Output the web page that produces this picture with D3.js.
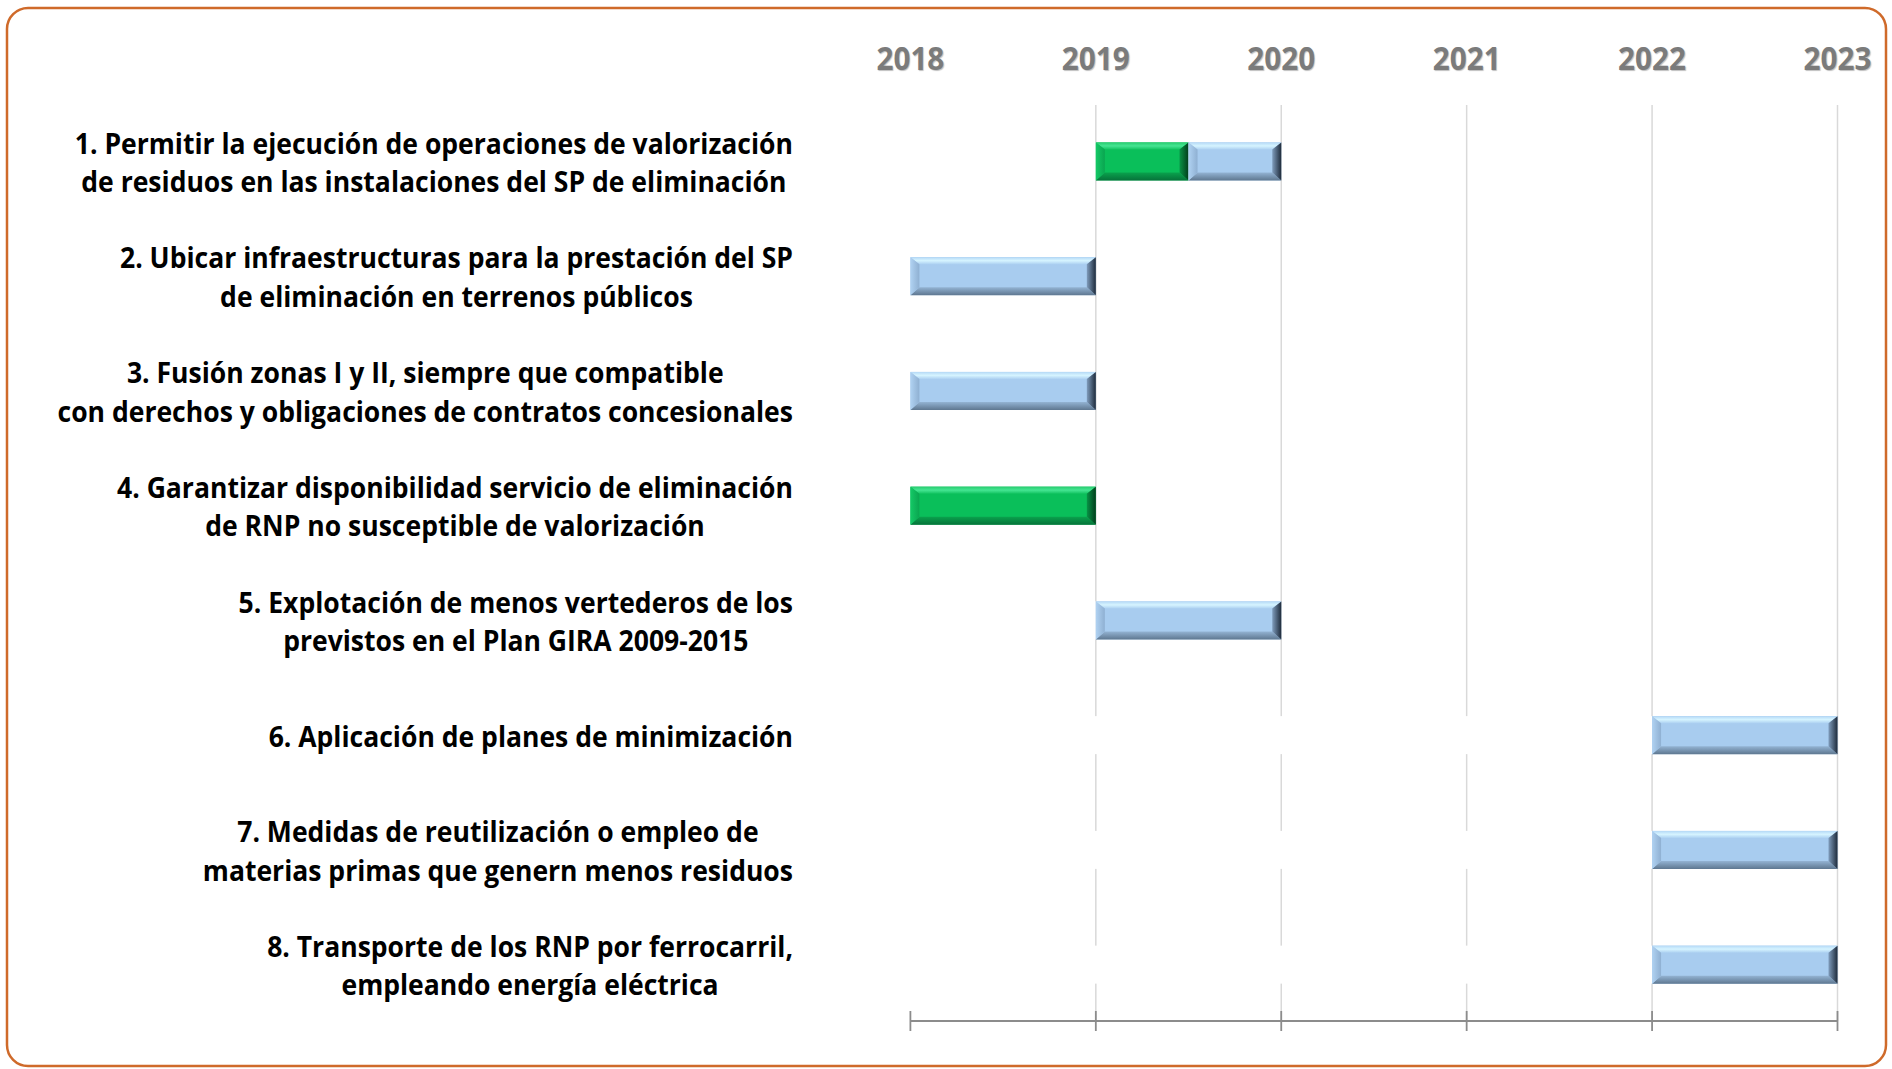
<!DOCTYPE html>
<html>

<head>
	<meta charset="utf-8">
	<title>Calendario de medidas</title>
	<style>
		html,
		body {
			margin: 0;
			background: white;
		}

		svg {
			display: block;
			font-family: "Open Sans", "Noto Sans", sans-serif;
		}
	</style>
	<script src="https://cdn.jsdelivr.net/npm/d3@7"></script>
</head>

<body>
	<svg id="svg" width="1892" height="1069"></svg>

	<script>
		// years on the top scale
		const years = [2018, 2019, 2020, 2021, 2022, 2023];

		// one entry per measure, lines of the label
		const measures = [
			['1. Permitir la ejecución de operaciones de valorización', 'de residuos en las instalaciones del SP de eliminación'],
			['2. Ubicar infraestructuras para la prestación del SP', 'de eliminación en terrenos públicos'],
			['3. Fusión zonas I y II, siempre que compatible', 'con derechos y obligaciones de contratos concesionales'],
			['4. Garantizar disponibilidad servicio de eliminación', 'de RNP no susceptible de valorización'],
			['5. Explotación de menos vertederos de los', 'previstos en el Plan GIRA 2009-2015'],
			['6. Aplicación de planes de minimización'],
			['7. Medidas de reutilización o empleo de', 'materias primas que genern menos residuos'],
			['8. Transporte de los RNP por ferrocarril,', 'empleando energía eléctrica']
		];

		// start year, then durations (years) of the green and blue parts
		const starts = [2019, 2018, 2018, 2018, 2019, 2022, 2022, 2022];
		const greenYears = [0.5, 0, 0, 1, 0, 0, 0, 0];
		const blueYears = [0.5, 1, 1, 0, 1, 1, 1, 1];

		const svg = d3.select('#svg');

		const x = d3.scaleLinear().domain([2018, 2023]).range([910.4, 1837.5]);
		const y = d3.scaleBand().domain(d3.range(measures.length)).range([104, 1022]);
		const barH = 38;

		// narrow the text a bit, the original font is condensed
		function squeeze(sel, k) {
			sel.each(function () {
				const w = this.getComputedTextLength();
				d3.select(this).attr('textLength', w * k).attr('lengthAdjust', 'spacingAndGlyphs');
			});
		}

		// frame
		svg.append('rect')
			.attr('x', 7).attr('y', 8)
			.attr('width', 1879).attr('height', 1058)
			.attr('rx', 21)
			.attr('fill', 'none')
			.attr('stroke', '#cf6a2a')
			.attr('stroke-width', 2.5);

		// bevel gradients
		const defs = svg.append('defs');
		const palette = {
			blue: { mid: '#a8ccef', top: ['#b4d8f6', '#d6f4ff', '#aed2f2'], bottom: ['#94b4d4', '#5f7891'], left: ['#b0d2f2', '#8fb0d2'], right: ['#7f9cbc', '#1e2b3b'] },
			green: { mid: '#0abf5a', top: ['#26cc6e', '#45e592', '#14c462'], bottom: ['#0aa34d', '#06733a'], left: ['#14c966', '#0aa550'], right: ['#089346', '#023d1c'] }
		};

		function grad(id, stops, vertical) {
			const g = defs.append('linearGradient').attr('id', id)
				.attr('x1', 0).attr('y1', 0)
				.attr('x2', vertical ? 0 : 1).attr('y2', vertical ? 1 : 0);
			stops.forEach((c, i) => g.append('stop').attr('offset', i / (stops.length - 1)).attr('stop-color', c));
		}
		Object.keys(palette).forEach(k => {
			const p = palette[k];
			grad(k + '-top', p.top, true);
			grad(k + '-bottom', p.bottom, true);
			grad(k + '-left', p.left, false);
			grad(k + '-right', p.right, false);
		});

		// gridlines (no line at the first year)
		svg.append('g')
			.selectAll('line')
			.data(years.slice(1))
			.join('line')
			.attr('x1', d => x(d)).attr('x2', d => x(d))
			.attr('y1', 105).attr('y2', 1021)
			.attr('stroke', '#d9d9d9')
			.attr('stroke-width', 1.5);

		// year labels
		svg.append('g')
			.selectAll('text')
			.data(years)
			.join('text')
			.attr('x', d => x(d))
			.attr('y', 57)
			.attr('text-anchor', 'middle')
			.attr('dominant-baseline', 'central')
			.attr('font-size', 33)
			.attr('font-weight', 'bold')
			.attr('fill', '#7b7b7b')
			.style('text-shadow', '1px 1px 1px rgba(0,0,0,0.25)')
			.text(d => d)
			.call(squeeze, 0.9);

		// bottom axis
		const axis = svg.append('g').attr('transform', 'translate(0,1021)');
		axis.append('line')
			.attr('x1', x(2018)).attr('x2', x(2023))
			.attr('stroke', '#8c8c8c').attr('stroke-width', 2.2);
		axis.selectAll('.tick')
			.data(years)
			.join('line')
			.attr('x1', d => x(d)).attr('x2', d => x(d))
			.attr('y1', -10).attr('y2', 10)
			.attr('stroke', '#8c8c8c').attr('stroke-width', 1.8);

		// segments: white base, green, blue
		const segments = [];
		measures.forEach((m, i) => {
			segments.push({ row: i, from: 2018, to: starts[i], kind: 'base' });
			if (greenYears[i] > 0) segments.push({ row: i, from: starts[i], to: starts[i] + greenYears[i], kind: 'green' });
			if (blueYears[i] > 0) segments.push({ row: i, from: starts[i] + greenYears[i], to: starts[i] + greenYears[i] + blueYears[i], kind: 'blue' });
		});

		const bars = svg.append('g');
		segments.forEach(s => {
			const x0 = x(s.from), x1 = x(s.to);
			const y0 = y(s.row) + (y.bandwidth() - barH) / 2, y1 = y0 + barH;
			if (x1 - x0 <= 0) return;
			const g = bars.append('g');
			if (s.kind === 'base') {
				g.append('rect').attr('x', x0).attr('y', y0).attr('width', x1 - x0).attr('height', barH).attr('fill', 'white');
				return;
			}
			const p = palette[s.kind];
			const bx = 9, bt = 7, bb = 8;
			g.append('rect').attr('x', x0).attr('y', y0).attr('width', x1 - x0).attr('height', barH).attr('fill', p.mid);
			const poly = (pts, fill) => g.append('polygon').attr('points', pts.map(q => q.join(',')).join(' ')).attr('fill', fill);
			poly([[x0, y0], [x1, y0], [x1 - bx, y0 + bt], [x0 + bx, y0 + bt]], `url(#${s.kind}-top)`);
			poly([[x0 + bx, y1 - bb], [x1 - bx, y1 - bb], [x1, y1], [x0, y1]], `url(#${s.kind}-bottom)`);
			poly([[x0, y0], [x0 + bx, y0 + bt], [x0 + bx, y1 - bb], [x0, y1]], `url(#${s.kind}-left)`);
			poly([[x1 - bx, y0 + bt], [x1, y0], [x1, y1], [x1 - bx, y1 - bb]], `url(#${s.kind}-right)`);
		});

		// labels: lines centred on each other, block right aligned
		const labelRight = 793, lineGap = 38.6, k = 0.915;
		const labels = svg.append('g');
		measures.forEach((lines, i) => {
			const cy = y(i) + y.bandwidth() / 2;
			const texts = lines.map((t, j) => labels.append('text')
				.attr('y', cy + (j - (lines.length - 1) / 2) * lineGap)
				.attr('dominant-baseline', 'central')
				.attr('text-anchor', 'middle')
				.attr('font-size', 29)
				.attr('font-weight', 'bold')
				.attr('fill', '#000')
				.text(t));
			const w = d3.max(texts, t => t.node().getComputedTextLength()) * k;
			texts.forEach(t => t.call(squeeze, k).attr('x', labelRight - w / 2));
		});
	</script>
</body>

</html>
